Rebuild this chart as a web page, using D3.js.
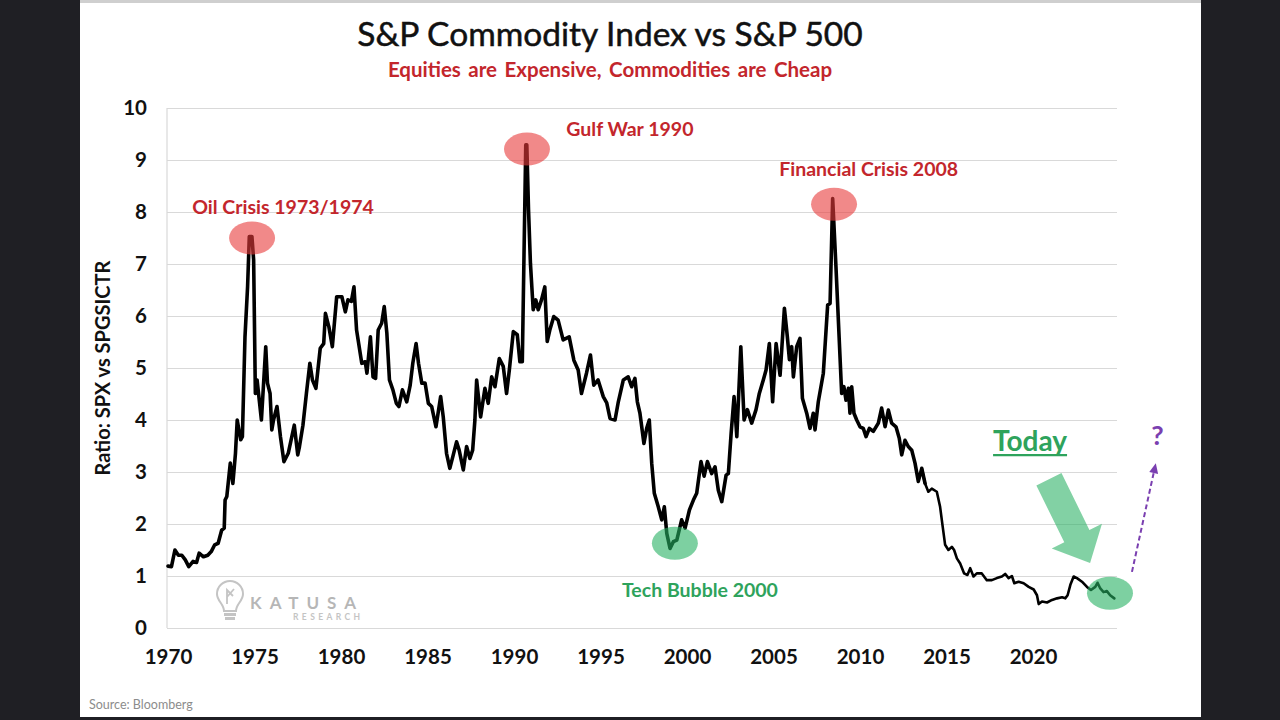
<!DOCTYPE html>
<html>
<head>
<meta charset="utf-8">
<script src="https://cdn.jsdelivr.net/npm/d3@7"></script>
<style>
  html, body { margin: 0; padding: 0; background: #1f1f24; }
  svg { display: block; }
</style>
</head>
<body>
<svg id="chart" width="1280" height="720"></svg>
<script>
// ---------- DATA ----------
const chartTitle = "S&P Commodity Index vs S&P 500";
const chartSubtitle = "Equities are Expensive, Commodities are Cheap";
const yAxisTitle = "Ratio: SPX vs SPGSICTR";
const sourceNote = "Source: Bloomberg";

const xTickYears = [1970, 1975, 1980, 1985, 1990, 1995, 2000, 2005, 2010, 2015, 2020];
const yTickValues = [0, 1, 2, 3, 4, 5, 6, 7, 8, 9, 10];

const years = [
  1970.0,1970.2,1970.4,1970.6,1970.8,1971.0,1971.2,1971.45,1971.65,1971.8,
  1972.05,1972.3,1972.5,1972.7,1972.9,1973.1,1973.25,1973.3,1973.4,1973.6,
  1973.75,1973.9,1974.0,1974.2,1974.3,1974.45,1974.6,1974.7,1974.85,1974.95,
  1975.05,1975.15,1975.4,1975.65,1975.75,1975.9,1976.0,1976.1,1976.3,1976.5,
  1976.7,1976.95,1977.3,1977.5,1977.6,1977.8,1978.0,1978.2,1978.35,1978.55,
  1978.8,1979.0,1979.1,1979.3,1979.5,1979.75,1980.05,1980.25,1980.4,1980.6,
  1980.75,1980.9,1981.2,1981.4,1981.5,1981.7,1981.85,1982.0,1982.15,1982.35,
  1982.5,1982.65,1982.8,1983.0,1983.2,1983.35,1983.55,1983.8,1984.0,1984.15,
  1984.34,1984.48,1984.67,1984.86,1985.05,1985.24,1985.49,1985.76,1985.91,1986.1,
  1986.29,1986.49,1986.68,1986.83,1987.07,1987.26,1987.45,1987.61,1987.74,1987.84,
  1988.07,1988.32,1988.51,1988.71,1988.9,1989.15,1989.38,1989.57,1989.73,1989.96,
  1990.19,1990.34,1990.48,1990.68,1990.74,1990.84,1990.95,1991.11,1991.26,1991.4,
  1991.59,1991.78,1991.92,1992.07,1992.3,1992.55,1992.84,1993.19,1993.46,1993.71,
  1993.9,1994.19,1994.42,1994.61,1994.86,1995.16,1995.36,1995.55,1995.84,1996.03,
  1996.32,1996.6,1996.8,1996.99,1997.13,1997.28,1997.51,1997.67,1997.82,1997.96,
  1998.11,1998.34,1998.54,1998.69,1998.83,1999.02,1999.21,1999.41,1999.69,1999.89,
  2000.14,2000.37,2000.56,2000.81,2000.99,2001.18,2001.43,2001.62,2001.81,2002.01,
  2002.26,2002.39,2002.55,2002.72,2002.88,2003.11,2003.3,2003.49,2003.74,2003.99,
  2004.18,2004.41,2004.57,2004.76,2004.95,2005.15,2005.38,2005.63,2005.8,2005.92,
  2006.05,2006.15,2006.34,2006.53,2006.67,2006.92,2007.11,2007.3,2007.4,2007.59,
  2007.88,2008.13,2008.27,2008.42,2008.61,2008.94,2009.07,2009.19,2009.33,2009.42,
  2009.52,2009.65,2009.81,2010.0,2010.19,2010.35,2010.54,2010.77,2011.06,2011.25,
  2011.45,2011.64,2011.83,2012.08,2012.27,2012.41,2012.6,2012.79,2012.99,2013.18,
  2013.37,2013.57,2013.76,2013.95,2014.15,2014.44,2014.63,2014.78,2014.92,2015.11,
  2015.31,2015.44,2015.6,2015.79,2016.02,2016.21,2016.37,2016.56,2016.75,2017.04,
  2017.33,2017.62,2017.91,2018.2,2018.39,2018.59,2018.78,2018.92,2019.17,2019.46,
  2019.75,2020.04,2020.23,2020.33,2020.52,2020.81,2021.1,2021.39,2021.68,2021.87,
  2022.0,2022.16,2022.35,2022.54,2022.83,2023.12,2023.35,2023.6,2023.73,2023.89,
  2024.08,2024.27,2024.46,2024.7
];
const ratio = [
  1.19,1.18,1.50,1.40,1.40,1.31,1.18,1.28,1.26,1.44,
  1.37,1.40,1.47,1.60,1.63,1.88,1.92,2.46,2.53,3.17,
  2.78,3.36,4.00,3.62,3.68,5.60,6.56,7.53,7.53,7.08,
  4.51,4.77,4.00,5.41,4.71,4.51,3.81,4.00,4.26,3.68,
  3.20,3.36,3.90,3.33,3.49,3.90,4.51,5.09,4.77,4.61,
  5.38,5.47,6.05,5.79,5.41,6.37,6.37,6.08,6.31,6.28,
  6.56,5.73,5.09,5.12,4.90,5.60,4.83,4.80,5.73,5.86,
  6.18,5.67,4.77,4.58,4.32,4.26,4.58,4.35,4.67,5.09,
  5.47,5.09,4.71,4.71,4.32,4.26,3.87,4.45,4.06,3.36,
  3.07,3.33,3.58,3.42,3.04,3.49,3.26,3.42,4.00,4.77,
  4.06,4.61,4.32,4.83,4.64,5.18,5.03,4.51,4.96,5.70,
  5.64,5.12,5.12,9.29,9.29,8.04,7.01,6.12,6.31,6.12,
  6.31,6.56,5.51,5.73,5.99,5.92,5.54,5.60,5.15,4.96,
  4.51,4.90,5.25,4.67,4.77,4.45,4.33,4.03,4.00,4.35,
  4.77,4.83,4.64,4.80,4.35,4.13,3.55,3.84,4.00,3.17,
  2.59,2.33,2.08,2.33,1.82,1.53,1.66,1.69,2.08,1.92,
  2.27,2.46,2.59,3.20,2.92,3.20,2.97,3.10,2.65,2.43,
  2.94,2.97,3.74,4.45,3.68,5.41,4.00,4.20,3.94,4.20,
  4.51,4.77,4.96,5.47,4.35,5.47,4.86,6.15,5.60,5.16,
  5.41,4.83,5.41,5.57,4.42,4.13,3.84,4.13,3.81,4.35,
  4.90,6.21,6.24,8.26,6.95,4.51,4.64,4.38,4.61,4.13,
  4.64,4.13,4.00,3.87,3.84,3.68,3.84,3.78,3.94,4.23,
  3.87,4.19,3.94,3.87,3.65,3.33,3.61,3.49,3.42,3.17,
  2.82,3.07,2.78,2.62,2.68,2.62,2.33,1.95,1.60,1.50,
  1.56,1.50,1.34,1.24,1.05,1.02,1.15,0.99,1.05,1.05,
  0.92,0.92,0.96,0.99,1.04,0.96,1.00,0.86,0.89,0.86,
  0.79,0.74,0.63,0.46,0.51,0.49,0.54,0.57,0.59,0.57,
  0.63,0.83,0.99,0.96,0.89,0.79,0.73,0.79,0.87,0.76,
  0.69,0.71,0.63,0.57
];

// Highlight circles (in data units: year, ratio)
const highlightYears  = [1974.86, 1990.75, 2008.5, 1999.3, 2024.45];
const highlightValues = [7.50, 9.21, 8.15, 1.63, 0.67];
const highlightKinds  = ["red", "red", "red", "green", "green"];

// Text annotations (centre year, baseline ratio)
const noteTexts  = ["Oil Crisis 1973/1974", "Gulf War 1990", "Financial Crisis 2008", "Tech Bubble 2000"];
const noteYears  = [1976.65, 1996.7, 2010.5, 2000.75];
const noteValues = [7.97, 9.46, 8.69, 0.60];
const noteKinds  = ["red", "red", "red", "green"];

// ---------- LAYOUT ----------
const svg = d3.select("#chart");
const W = 1280, H = 720;
const plot = { left: 167, right: 1117, top: 108, bottom: 628 };
const FONT = "Lato, 'Open Sans', 'Liberation Sans', sans-serif";

const x = d3.scaleLinear().domain([1970, 2025]).range([168, 1119.5]);
const y = d3.scaleLinear().domain([0, 10]).range([plot.bottom, plot.top]);

// card
svg.append("rect").attr("x", 0).attr("y", 0).attr("width", W).attr("height", H).attr("fill", "#1f1f24");
svg.append("rect").attr("x", 80).attr("y", 0).attr("width", 1121).attr("height", 717).attr("fill", "#ffffff");
svg.append("line").attr("x1", 80).attr("x2", 1201).attr("y1", 1.5).attr("y2", 1.5)
  .attr("stroke", "#cfcfcf").attr("stroke-width", 3);

// title
svg.append("text").attr("x", 610).attr("y", 46).attr("text-anchor", "middle")
  .attr("font-family", FONT).attr("font-size", 33.5).attr("fill", "#111")
  .attr("stroke", "#111").attr("stroke-width", 0.5)
  .text(chartTitle);
svg.append("text").attr("x", 610).attr("y", 77).attr("text-anchor", "middle")
  .attr("font-family", FONT).attr("font-weight", "bold").attr("font-size", 20.5).attr("word-spacing", 2.5)
  .attr("fill", "#c3262c")
  .text(chartSubtitle);

// gridlines
const grid = svg.append("g").attr("transform", `translate(${plot.left},0)`)
  .call(d3.axisLeft(y).tickValues(yTickValues).tickSize(-(plot.right - plot.left)).tickFormat(""));
grid.select(".domain").remove();
grid.selectAll(".tick line").attr("stroke", "#d9d9d9").attr("stroke-width", 1.2);
svg.append("line").attr("x1", plot.left).attr("x2", plot.left).attr("y1", plot.top).attr("y2", plot.bottom)
  .attr("stroke", "#d9d9d9").attr("stroke-width", 1.2);

// y axis labels
const yAx = svg.append("g").attr("transform", `translate(147,0)`)
  .call(d3.axisLeft(y).tickValues(yTickValues).tickSize(0).tickPadding(0).tickFormat(d3.format("d")));
yAx.select(".domain").remove();
yAx.selectAll("text").attr("font-family", FONT).attr("font-weight", "bold").attr("font-size", 20.5).attr("fill", "#111");

// x axis labels
const xAx = svg.append("g").attr("transform", `translate(0,649)`)
  .call(d3.axisBottom(x).tickValues(xTickYears).tickSize(0).tickPadding(0).tickFormat(d3.format("d")));
xAx.select(".domain").remove();
xAx.selectAll("text").attr("font-family", FONT).attr("font-weight", "bold").attr("font-size", 20.5).attr("fill", "#111");

// y axis title
svg.append("text").attr("transform", "translate(110,368) rotate(-90)").attr("text-anchor", "middle")
  .attr("font-family", FONT).attr("font-weight", "bold").attr("font-size", 20).attr("fill", "#111")
  .text(yAxisTitle);

// watermark logo
const logo = svg.append("g").attr("opacity", 0.5);
logo.append("path")
  .attr("d", "M224,611 C224,604 217,601 217,594 A13,13 0 1 1 243,594 C243,601 236,604 236,611 Z")
  .attr("fill", "none").attr("stroke", "#8a8a8a").attr("stroke-width", 2);
logo.append("path").attr("d", "M227,604 L227,590 L233,596 M227,597 L234,589")
  .attr("fill", "none").attr("stroke", "#8a8a8a").attr("stroke-width", 1.8);
logo.append("rect").attr("x", 224).attr("y", 613).attr("width", 12).attr("height", 3).attr("fill", "#8a8a8a");
logo.append("rect").attr("x", 225).attr("y", 617).attr("width", 10).attr("height", 3).attr("fill", "#8a8a8a");
logo.append("text").attr("x", 250).attr("y", 609).attr("font-family", FONT).attr("font-weight", "bold")
  .attr("font-size", 17).attr("letter-spacing", 8).attr("fill", "#6f6f6f").text("KATUSA");
logo.append("text").attr("x", 293).attr("y", 620).attr("font-family", FONT).attr("font-weight", "bold")
  .attr("font-size", 8.5).attr("letter-spacing", 3.4).attr("fill", "#8a8a8a").text("RESEARCH");

// ---------- LINE ----------
const pts = years.map((yr, i) => [yr, ratio[i]]);
const line = d3.line().x(d => x(d[0])).y(d => y(d[1])).curve(d3.curveLinear);
const splitYear = 2013.5;
svg.append("path").datum(pts.filter(d => d[0] <= splitYear + 0.3))
  .attr("d", line).attr("fill", "none").attr("stroke", "#000").attr("stroke-width", 3.6)
  .attr("stroke-linejoin", "round").attr("stroke-linecap", "round");
svg.append("path").datum(pts.filter(d => d[0] >= splitYear))
  .attr("d", line).attr("fill", "none").attr("stroke", "#000").attr("stroke-width", 2.6)
  .attr("stroke-linejoin", "round").attr("stroke-linecap", "round");

// ---------- ANNOTATIONS ----------
const fillFor = { red: "#e83a3a", green: "#27b062" };
const textFor = { red: "#c3262c", green: "#2ea35c" };
highlightYears.forEach((yr, i) => {
  svg.append("ellipse").attr("cx", x(yr)).attr("cy", y(highlightValues[i]))
    .attr("rx", 23).attr("ry", 16.5).attr("fill", fillFor[highlightKinds[i]]).attr("fill-opacity", 0.6);
});
noteTexts.forEach((t, i) => {
  svg.append("text").attr("x", x(noteYears[i])).attr("y", y(noteValues[i])).attr("text-anchor", "middle")
    .attr("font-family", FONT).attr("font-weight", "bold").attr("font-size", 19.5)
    .attr("fill", textFor[noteKinds[i]]).text(t);
});

// Today label
const todayX = x(2019.83), todayY = y(3.40);
const todayText = svg.append("text").attr("x", todayX).attr("y", todayY).attr("text-anchor", "middle")
  .attr("font-family", FONT).attr("font-weight", "bold").attr("font-size", 28).attr("fill", "#2ea35c")
  .text("Today");
const tw = todayText.node().getComputedTextLength();
svg.append("line").attr("x1", todayX - tw / 2).attr("x2", todayX + tw / 2)
  .attr("y1", todayY + 4).attr("y2", todayY + 4).attr("stroke", "#2ea35c").attr("stroke-width", 2.2);

// big green arrow (tail -> tip in data units)
const ax0 = x(2020.92), ay0 = y(2.86), ax1 = x(2023.3), ay1 = y(1.25);
const ang = Math.atan2(ay1 - ay0, ax1 - ax0) * 180 / Math.PI;
const L = Math.hypot(ax1 - ax0, ay1 - ay0);
const sw = 14, hw = 28, hl = 30;
svg.append("path")
  .attr("d", `M0,${-sw} L${L - hl},${-sw} L${L - hl},${-hw} L${L},0 L${L - hl},${hw} L${L - hl},${sw} L0,${sw} Z`)
  .attr("transform", `translate(${ax0},${ay0}) rotate(${ang})`)
  .attr("fill", "#27b062").attr("fill-opacity", 0.58);

// purple dashed arrow
const px0 = x(2025.72), py0 = y(1.08), px1 = x(2027.1), py1 = y(3.17);
const pang = Math.atan2(py1 - py0, px1 - px0) * 180 / Math.PI;
const PL = Math.hypot(px1 - px0, py1 - py0);
const pg = svg.append("g").attr("transform", `translate(${px0},${py0}) rotate(${pang})`);
pg.append("line").attr("x1", 0).attr("y1", 0).attr("x2", PL - 8).attr("y2", 0)
  .attr("stroke", "#7a3fb0").attr("stroke-width", 2).attr("stroke-dasharray", "5,3");
pg.append("path").attr("d", `M${PL},0 L${PL - 10},-4.5 L${PL - 10},4.5 Z`).attr("fill", "#7a3fb0");
svg.append("text").attr("x", x(2027.2)).attr("y", y(3.52)).attr("text-anchor", "middle")
  .attr("font-family", FONT).attr("font-weight", "bold").attr("font-size", 27).attr("fill", "#7a3fb0")
  .text("?");

// source
svg.append("text").attr("x", 89).attr("y", 709).attr("font-family", FONT).attr("font-size", 12.5)
  .attr("fill", "#8c8c8c").text(sourceNote);
</script>
</body>
</html>
